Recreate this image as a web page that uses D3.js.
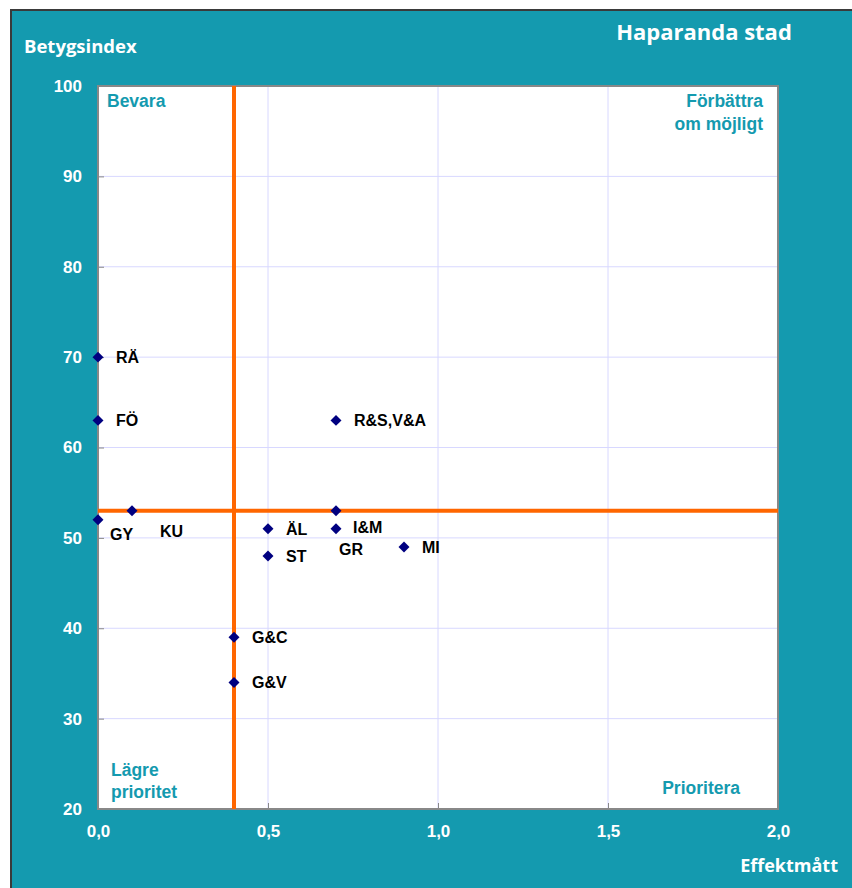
<!DOCTYPE html>
<html lang="en">
<meta charset="utf-8">
<head>
    <script src="https://d3js.org/d3.v7.min.js"></script>
    <style>
        body { margin: 0; background: #fff; }
        text { font-family: Arial, "Liberation Sans", sans-serif; font-weight: bold; }
    </style>
</head>
<body>
<div id="chart"></div>
<script>
// data
const names  = ['RÄ', 'FÖ', 'GY', 'KU', 'ÄL', 'ST', 'I&M', 'GR', 'R&S,V&A', 'MI', 'G&C', 'G&V'];
const effekt = [0.0, 0.0, 0.0, 0.1, 0.5, 0.5, 0.7, 0.7, 0.7, 0.9, 0.4, 0.4];
const betyg  = [70, 63, 52, 53, 51, 48, 51, 53, 63, 49, 39, 34];
const xTicks = [0, 0.5, 1.0, 1.5, 2.0];
const yTicks = [20, 30, 40, 50, 60, 70, 80, 90, 100];
const refX = 0.4;   // orange vertical line
const refY = 53;    // orange horizontal line

// label nudges (pixels) for points whose labels are moved off the default
const labelShift = {
    'GY':  [12, 14],
    'KU':  [28, 20],
    'I&M': [17, -2],
    'GR':  [3, 38]
};

const W = 852, H = 888;
const teal = '#149aaf';
const plot = { left: 98, top: 86, right: 778, bottom: 809 };

const svg = d3.select('#chart').append('svg')
    .attr('width', W).attr('height', H);

// background panel
svg.append('rect')
    .attr('x', 11).attr('y', 10)
    .attr('width', W - 11).attr('height', H - 10)
    .attr('fill', teal);
svg.append('path')
    .attr('d', `M11,${H} L11,10 L${W},10`)
    .attr('fill', 'none').attr('stroke', '#3a3a3a').attr('stroke-width', 2);

const x = d3.scaleLinear().domain([0, 2]).range([plot.left, plot.right]);
const y = d3.scaleLinear().domain([20, 100]).range([plot.bottom, plot.top]);

// plot area
svg.append('rect')
    .attr('x', plot.left).attr('y', plot.top)
    .attr('width', plot.right - plot.left).attr('height', plot.bottom - plot.top)
    .attr('fill', '#fff');

// gridlines
svg.append('g').selectAll('line')
    .data(yTicks.slice(1, -1)).join('line')
    .attr('x1', plot.left).attr('x2', plot.right)
    .attr('y1', d => y(d)).attr('y2', d => y(d))
    .attr('stroke', '#d8d8ff').attr('stroke-width', 1);
svg.append('g').selectAll('line')
    .data(xTicks.slice(1, -1)).join('line')
    .attr('y1', plot.top).attr('y2', plot.bottom)
    .attr('x1', d => x(d)).attr('x2', d => x(d))
    .attr('stroke', '#d8d8ff').attr('stroke-width', 1);

// axes (ticks inside, labels white)
const yAxis = svg.append('g')
    .attr('transform', `translate(${plot.left},0)`)
    .call(d3.axisLeft(y).tickValues(yTicks).tickSize(-6).tickPadding(16).tickFormat(d3.format('d')));
const xAxis = svg.append('g')
    .attr('transform', `translate(0,${plot.bottom})`)
    .call(d3.axisBottom(x).tickValues(xTicks).tickSize(-6).tickPadding(16)
        .tickFormat(d => d3.format('.1f')(d).replace('.', ',')));
[xAxis, yAxis].forEach(a => {
    a.select('.domain').remove();
    a.selectAll('.tick line').attr('stroke', '#888');
    a.selectAll('.tick text').attr('fill', '#fff').style('font-size', '17px');
});

// plot border
svg.append('rect')
    .attr('x', plot.left).attr('y', plot.top)
    .attr('width', plot.right - plot.left).attr('height', plot.bottom - plot.top)
    .attr('fill', 'none').attr('stroke', '#888').attr('stroke-width', 2);

// reference lines
svg.append('line')
    .attr('x1', x(refX)).attr('x2', x(refX))
    .attr('y1', plot.top).attr('y2', plot.bottom)
    .attr('stroke', '#ff6600').attr('stroke-width', 4);
svg.append('line')
    .attr('x1', plot.left).attr('x2', plot.right)
    .attr('y1', y(refY)).attr('y2', y(refY))
    .attr('stroke', '#ff6600').attr('stroke-width', 4);

// points
const pts = names.map((n, i) => ({ name: n, x: effekt[i], y: betyg[i] }));
svg.append('g').selectAll('path')
    .data(pts).join('path')
    .attr('d', d3.symbol(d3.symbolSquare, 60))
    .attr('transform', d => `translate(${x(d.x)},${y(d.y)}) rotate(45)`)
    .attr('fill', '#000080');

svg.append('g').selectAll('text')
    .data(pts).join('text')
    .attr('x', d => x(d.x) + (labelShift[d.name] ? labelShift[d.name][0] : 18))
    .attr('y', d => y(d.y) + (labelShift[d.name] ? labelShift[d.name][1] : 0))
    .attr('dy', '0.36em')
    .style('font-size', '16px')
    .attr('fill', '#000')
    .text(d => d.name);

// quadrant labels
const q = svg.append('g').attr('fill', teal).style('font-size', '17.5px');
q.append('text').attr('x', plot.left + 9).attr('y', 107).text('Bevara');
q.append('text').attr('x', plot.right - 15).attr('y', 107).attr('text-anchor', 'end').text('Förbättra');
q.append('text').attr('x', plot.right - 15).attr('y', 130).attr('text-anchor', 'end').text('om möjligt');
q.append('text').attr('x', plot.left + 13).attr('y', 776).text('Lägre');
q.append('text').attr('x', plot.left + 13).attr('y', 798).text('prioritet');
q.append('text').attr('x', plot.right - 38).attr('y', 794).attr('text-anchor', 'end').text('Prioritera');

// titles
svg.append('text')
    .attr('x', 704).attr('y', 40).attr('text-anchor', 'middle')
    .attr('fill', '#fff')
    .style('font-family', '"Open Sans", sans-serif').style('font-size', '22px')
    .text('Haparanda stad');
svg.append('text')
    .attr('x', 24).attr('y', 53)
    .attr('fill', '#fff')
    .style('font-family', '"Open Sans", sans-serif').style('font-size', '18.5px')
    .text('Betygsindex');
svg.append('text')
    .attr('x', 838).attr('y', 872).attr('text-anchor', 'end')
    .attr('fill', '#fff')
    .style('font-family', '"Open Sans", sans-serif').style('font-size', '18px')
    .text('Effektmått');
</script>
</body>
</html>
